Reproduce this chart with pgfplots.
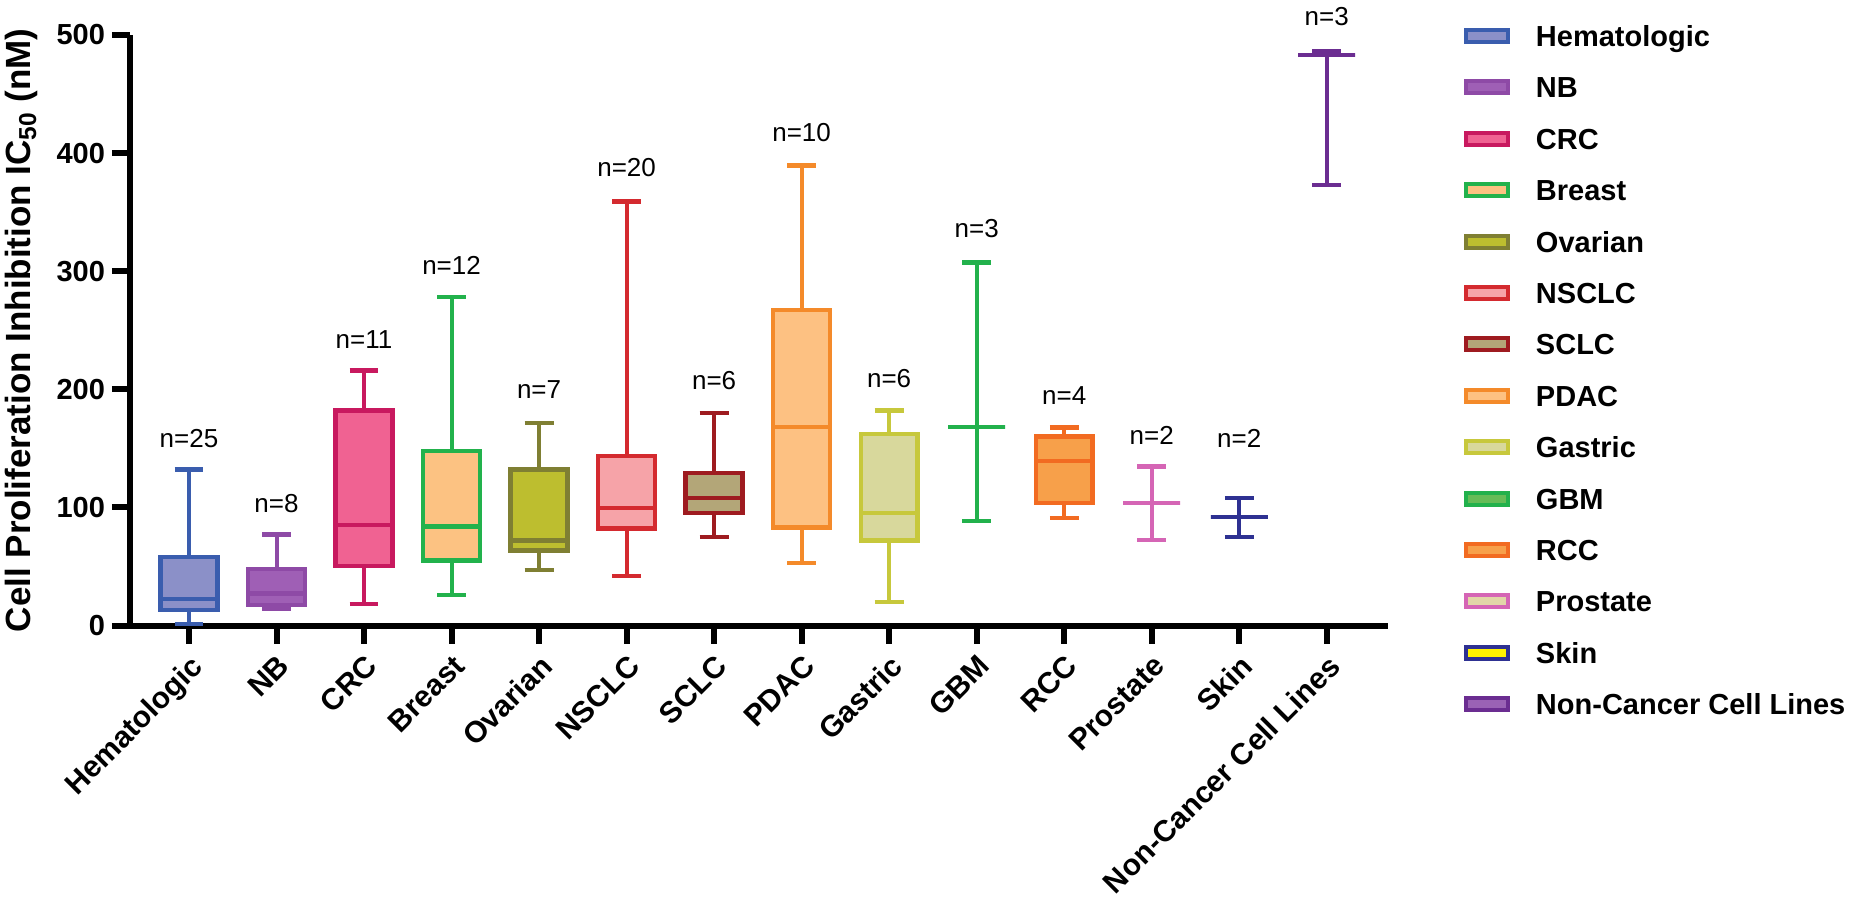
\documentclass[border=0pt]{standalone}
\usepackage{fontspec}
\setmainfont{Liberation Sans}
\usepackage{pgfplots}
\pgfplotsset{compat=1.18}
\definecolor{hemE}{HTML}{3A5DAE}\definecolor{hemF}{HTML}{8B90C8}
\definecolor{nbE}{HTML}{8E4AA6}\definecolor{nbF}{HTML}{9F5FB5}
\definecolor{crcE}{HTML}{C8195F}\definecolor{crcF}{HTML}{F06292}
\definecolor{brE}{HTML}{22B24C}\definecolor{brF}{HTML}{FCC282}
\definecolor{ovE}{HTML}{7F7F33}\definecolor{ovF}{HTML}{BDBE2F}
\definecolor{nsE}{HTML}{D42A2F}\definecolor{nsF}{HTML}{F6A3A8}
\definecolor{scE}{HTML}{9E1B20}\definecolor{scF}{HTML}{B3A678}
\definecolor{pdE}{HTML}{F48A2A}\definecolor{pdF}{HTML}{FDC182}
\definecolor{gaE}{HTML}{C7C83C}\definecolor{gaF}{HTML}{D8D89C}
\definecolor{gbE}{HTML}{22B14C}\definecolor{gbF}{HTML}{66BC57}
\definecolor{rcE}{HTML}{F26B21}\definecolor{rcF}{HTML}{F7A04A}
\definecolor{prE}{HTML}{D565B5}\definecolor{prF}{HTML}{E2D6A8}
\definecolor{skE}{HTML}{2E3192}\definecolor{skF}{HTML}{FFF200}
\definecolor{ncE}{HTML}{6B2D91}\definecolor{ncF}{HTML}{9A62B5}
% #1 edge, #2 fill, #3 position, #4 lower whisker, #5 Q1, #6 median, #7 Q3, #8 upper whisker
\newcommand{\mybox}[8]{%
  \pgfmathsetmacro\bxl{#3-0.325}\pgfmathsetmacro\bxr{#3+0.325}%
  \pgfmathsetmacro\cxl{#3-0.165}\pgfmathsetmacro\cxr{#3+0.165}%
  \addplot[forget plot, draw=#1, fill=#2, line width=2.2pt] coordinates {(\bxl,#5) (\bxr,#5) (\bxr,#7) (\bxl,#7)} --cycle;
  \addplot[forget plot, draw=#1, line width=2.2pt] coordinates {(\bxl,#6) (\bxr,#6)};
  \addplot[forget plot, draw=#1, line width=2pt] coordinates {(#3,#4) (#3,#5)};
  \addplot[forget plot, draw=#1, line width=2pt] coordinates {(#3,#7) (#3,#8)};
  \addplot[forget plot, draw=#1, line width=2.2pt] coordinates {(\cxl,#4) (\cxr,#4)};
  \addplot[forget plot, draw=#1, line width=2.2pt] coordinates {(\cxl,#8) (\cxr,#8)};
}
\newcommand{\nlab}[3]{\node[font=\fontsize{13}{15}\selectfont] at (axis cs:#1,#2) {#3};}
\begin{document}
\begin{tikzpicture}
\begin{axis}[
  name=ax,
  scale only axis, width=629pt, height=295.25pt,
  xmin=-0.674, xmax=13.70, ymin=0, ymax=500,
  axis x line=bottom, axis y line=left,
  axis line style={-, line width=3pt, black},
  xtick={0,...,13},
  xticklabels={Hematologic,NB,CRC,Breast,Ovarian,NSCLC,SCLC,PDAC,Gastric,GBM,RCC,Prostate,Skin,Non-Cancer Cell Lines},
  x tick label style={rotate=45, anchor=north east, font=\bfseries\fontsize{15}{17}\selectfont},
  ytick={0,100,...,500},
  y tick label style={font=\bfseries\fontsize{14.5}{16}\selectfont},
  /pgf/number format/assume math mode=true,
  major tick style={line width=3pt, black},
  major tick length=9pt,
  tick align=outside,
  minor tick num=0,
  ylabel={Cell Proliferation Inhibition IC\textsubscript{50} (nM)},
  ylabel style={at={(axis description cs:-0.086,0.5)}, anchor=center, font=\bfseries\fontsize{17.5}{19}\selectfont},
  clip=false,
  mark=none,
  legend image code/.code={\draw[#1] (1pt,-3pt) rectangle (22pt,3pt);},
  legend style={at={(1.0604,1.0247)}, anchor=north west, draw=none, fill=none,
    inner sep=0pt, outer sep=0pt, row sep=10.1pt, column sep=13pt,
    font=\bfseries\fontsize{14.5}{16}\selectfont,
    nodes={inner sep=0pt, text height=13pt, text depth=2.6pt}},
  legend cell align=left,
]
\mybox{hemE}{hemF}{0}{1.5}{13}{22.5}{58}{132}
\mybox{nbE}{nbF}{1}{14}{17.5}{27}{48}{77}
\mybox{crcE}{crcF}{2}{18}{50.5}{85}{182}{216}
\mybox{brE}{brF}{3}{26}{55}{84}{148}{278}
\mybox{ovE}{ovF}{4}{47}{63.5}{72}{132}{171.5}
\mybox{nsE}{nsF}{5}{42}{82}{99.5}{143.5}{359}
\mybox{scE}{scF}{6}{75}{95.5}{108}{129}{180}
\mybox{pdE}{pdF}{7}{53}{83}{168}{267}{389.5}
\mybox{gaE}{gaF}{8}{20}{72}{95.5}{162}{182}
\mybox{gbE}{gbF}{9}{88.5}{168}{168}{168}{307.5}
\mybox{rcE}{rcF}{10}{91}{103.5}{139.5}{160}{167.5}
\mybox{prE}{prF}{11}{72.5}{103.5}{103.5}{103.5}{134.5}
\mybox{skE}{skF}{12}{75}{92}{92}{92}{108}
\mybox{ncE}{ncF}{13}{373}{483}{483}{483}{486}
\nlab{0}{158}{n=25}
\nlab{1}{103}{n=8}
\nlab{2}{242}{n=11}
\nlab{3}{305}{n=12}
\nlab{4}{200}{n=7}
\nlab{5}{388}{n=20}
\nlab{6}{207}{n=6}
\nlab{7}{417}{n=10}
\nlab{8}{209}{n=6}
\nlab{9}{336}{n=3}
\nlab{10}{195}{n=4}
\nlab{11}{161}{n=2}
\nlab{12}{158}{n=2}
\nlab{13}{516}{n=3}
\addlegendimage{draw=hemE, fill=hemF, line width=2pt}\addlegendentry{Hematologic}
\addlegendimage{draw=nbE, fill=nbF, line width=2pt}\addlegendentry{NB}
\addlegendimage{draw=crcE, fill=crcF, line width=2pt}\addlegendentry{CRC}
\addlegendimage{draw=brE, fill=brF, line width=2pt}\addlegendentry{Breast}
\addlegendimage{draw=ovE, fill=ovF, line width=2pt}\addlegendentry{Ovarian}
\addlegendimage{draw=nsE, fill=nsF, line width=2pt}\addlegendentry{NSCLC}
\addlegendimage{draw=scE, fill=scF, line width=2pt}\addlegendentry{SCLC}
\addlegendimage{draw=pdE, fill=pdF, line width=2pt}\addlegendentry{PDAC}
\addlegendimage{draw=gaE, fill=gaF, line width=2pt}\addlegendentry{Gastric}
\addlegendimage{draw=gbE, fill=gbF, line width=2pt}\addlegendentry{GBM}
\addlegendimage{draw=rcE, fill=rcF, line width=2pt}\addlegendentry{RCC}
\addlegendimage{draw=prE, fill=prF, line width=2pt}\addlegendentry{Prostate}
\addlegendimage{draw=skE, fill=skF, line width=2pt}\addlegendentry{Skin}
\addlegendimage{draw=ncE, fill=ncF, line width=2pt}\addlegendentry{Non-Cancer Cell Lines}
\end{axis}
\pgfresetboundingbox
\path (ax.south west) ++(-65pt,-146.25pt) rectangle ++(925pt,459pt);
\end{tikzpicture}
\end{document}
